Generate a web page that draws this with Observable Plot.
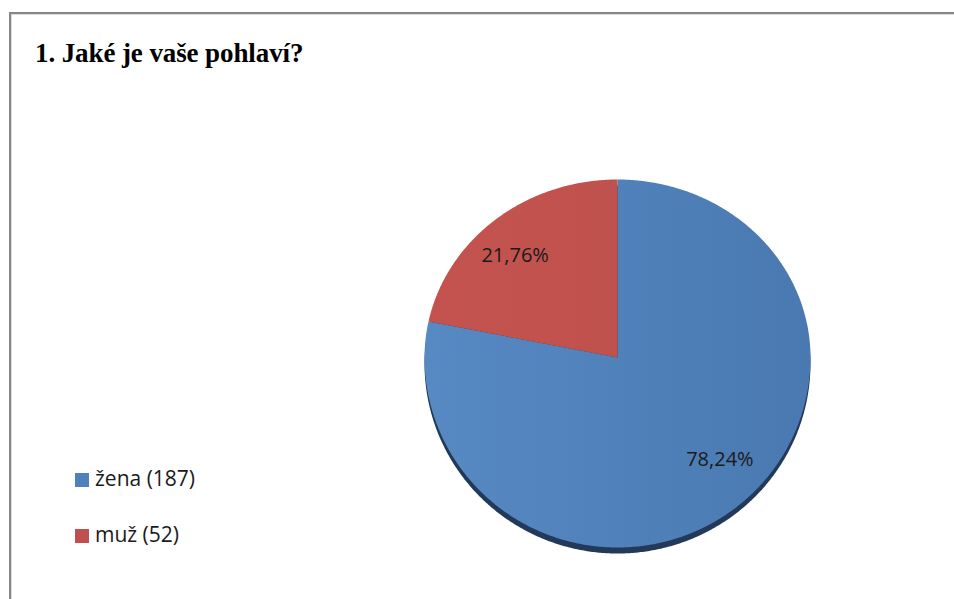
<!DOCTYPE html>
<html><head><meta charset="utf-8">
<script src="https://cdn.jsdelivr.net/npm/d3@7"></script>
<script src="https://cdn.jsdelivr.net/npm/@observablehq/plot@0.6"></script>
<style>
body{margin:0;background:#fff;}
#wrap{position:relative;width:954px;height:599px;overflow:hidden;background:#fff;}
#frame{position:absolute;left:9px;top:12px;width:2000px;height:2000px;border-left:2px solid #878787;border-top:2px solid #878787;box-shadow:inset 1px 1px 0 #dcdcdc;}
#chart{position:absolute;left:0;top:0;}
#title{position:absolute;left:35px;top:40px;font-family:"Liberation Serif","Times New Roman",serif;font-weight:bold;font-size:27px;line-height:27px;color:#000;white-space:nowrap;letter-spacing:-0.1px;}
.item{position:absolute;left:75px;font-family:"Open Sans",sans-serif;font-size:21px;line-height:21px;color:#1a1a1a;white-space:nowrap;}
.sw{position:absolute;left:0;width:14px;height:14px;}
.lab{position:absolute;left:20px;top:0;}
</style></head><body>
<div id="wrap">
  <div id="frame"></div>
  <div id="chart"></div>
  <div id="title">1. Jaké je vaše pohlaví?</div>
  <div id="legend"></div>
</div>
<script>
// ---- data ----
const categories = ["žena", "muž"];
const counts = [187, 52];
const percentLabels = ["78,24%", "21,76%"];
const legendLabels = ["žena (187)", "muž (52)"];
const colors = ["#4f81bd", "#c0504d"];

// ---- layout ----
const W = 954, H = 599;
const cx = 617, cy = 357, rx = 193, ryTop = 178, ryBottom = 190;
const k = ryBottom / ryTop;
const rimDepth = 6 / ryTop;

const data = categories.map((c, i) => ({name: c, count: counts[i], label: percentLabels[i], color: colors[i]}));
const arcs = d3.pie().sort(null).value(d => d.count)(data);

function ey(t) { const c = Math.cos(t); return c * (c < 0 ? k : 1); }
function slicePts(a0, a1, name) {
  const pts = [{name, x: 0, y: 0}];
  const n = Math.max(2, Math.ceil((a1 - a0) / (Math.PI / 360)));
  for (let i = 0; i <= n; i++) {
    const t = a0 + (a1 - a0) * i / n;
    pts.push({name, x: Math.sin(t), y: ey(t)});
  }
  pts.push({name, x: 0, y: 0});
  return pts;
}
const slices = arcs.map(a => ({name: a.data.name, pts: slicePts(a.startAngle, a.endAngle, a.data.name)}));
const rimPts = d3.range(0, 721).map(i => { const t = i / 720 * 2 * Math.PI; return {x: Math.sin(t), y: ey(t) - rimDepth}; });
const labelRx = 0.84, labelRy = 0.74;
const labels = arcs.map(a => { const m = (a.startAngle + a.endAngle) / 2; return {x: Math.sin(m) * labelRx, y: Math.cos(m) * labelRy, text: a.data.label}; });

const gradIds = ["gBlue", "gRed"];
const gradStops = [["#5789c2", "#4a79b1"], ["#c4534f", "#bb504d"]];
const defs = () => {
  const d = d3.create("svg:defs");
  gradIds.forEach((id, i) => {
    const g = d.append("linearGradient").attr("id", id).attr("gradientUnits", "userSpaceOnUse")
      .attr("x1", cx - rx).attr("x2", cx + rx).attr("y1", 0).attr("y2", 0);
    g.append("stop").attr("offset", 0).attr("stop-color", gradStops[i][0]);
    g.append("stop").attr("offset", 1).attr("stop-color", gradStops[i][1]);
  });
  return d.node();
};

const chart = Plot.plot({
  width: W, height: H, margin: 0,
  x: {domain: [-1, 1], range: [cx - rx, cx + rx], axis: null},
  y: {domain: [-1, 1], range: [cy + ryTop, cy - ryTop], axis: null},
  style: {background: "transparent", overflow: "visible"},
  marks: [
    defs,
    Plot.line(rimPts, {x: "x", y: "y", fill: "#22395a", stroke: "none"}),
    ...slices.map((s, i) => Plot.line(s.pts, {x: "x", y: "y", fill: `url(#${gradIds[i]})`, stroke: "none"})),
    Plot.text(labels, {x: "x", y: "y", text: "text", fontSize: 20, fontFamily: "Open Sans", fill: "#1a1a1a"})
  ]
});
document.getElementById("chart").appendChild(chart);

// ---- legend ----
const legendTops = [468, 524];
const legend = document.getElementById("legend");
legendLabels.forEach((t, i) => {
  const it = document.createElement("div");
  it.className = "item";
  it.style.top = legendTops[i] + "px";
  it.innerHTML = `<div class="sw" style="background:${colors[i]};top:5px"></div><div class="lab">${t}</div>`;
  legend.appendChild(it);
});
</script>
</body></html>
